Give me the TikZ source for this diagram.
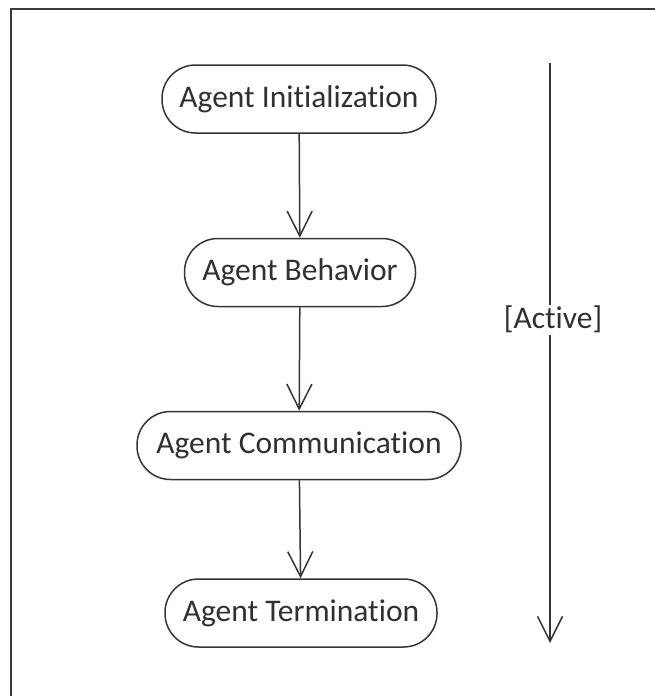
\documentclass[tikz,border=0pt]{standalone}
\usepackage{fontspec}
\setmainfont{Carlito}[Ligatures={NoCommon,NoContextual}]
\usetikzlibrary{arrows.meta}
\definecolor{linec}{HTML}{353535}
\definecolor{textc}{HTML}{303030}
\definecolor{framec}{HTML}{3A3A3A}
\newcommand{\nolig}{\kern0pt }
\begin{document}
\begin{tikzpicture}[x=1pt,y=-1pt,
  lbl/.style={font=\fontsize{31.5}{36}\selectfont, text=textc},
  stadium/.style={lbl, draw=linec, line width=1.5pt, rounded corners=33.5pt,
    minimum height=68pt, inner sep=0pt},
  flow/.style={draw=linec, line width=1.5pt,
    -{Straight Barb[length=25pt,width=25pt,line width=1.5pt]}}
]
\useasboundingbox (0,0) rectangle (654,696);
% frame
\draw[framec, line width=2.6pt] (656,9) -- (11,9) -- (11,698);
% activities
\node[stadium, minimum width=274pt] (init) at (299,99) {Agent Init\nolig ializat\nolig ion};
\node[stadium, minimum width=231pt] (beh)  at (300,272.5) {Agent Behavior};
\node[stadium, minimum width=324pt] (comm) at (299,445.5) {Agent Communicat\nolig ion};
\node[stadium, minimum width=272pt] (term) at (301,613) {Agent Terminat\nolig ion};
\draw[flow] (init) -- (beh);
\draw[flow] (beh) -- (comm);
\draw[flow] (comm) -- (term);
% active arrow
\coordinate (atop) at (550,63);
\coordinate (abot) at (550,643);
\node[lbl, inner sep=0pt, text height=23pt, text depth=7pt] (act) at (553,320) {[Act\nolig ive]};
\draw[linec, line width=1.5pt] (atop) -- (act.north -| atop);
\draw[flow] (act.south -| atop) -- (abot);
\end{tikzpicture}
\end{document}
